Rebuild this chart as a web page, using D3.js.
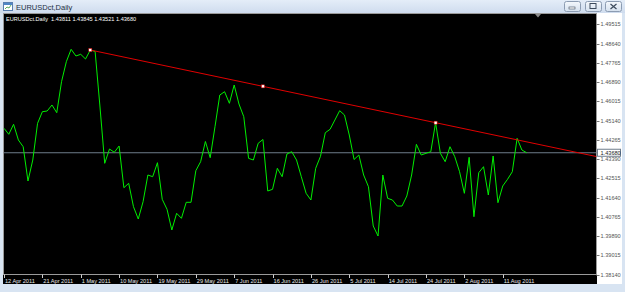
<!DOCTYPE html>
<html>
<head>
<meta charset="utf-8">
<script src="https://cdn.jsdelivr.net/npm/d3@7"></script>
<style>
  body { margin: 0; background: #d8e4f2; }
  svg { display: block; font-family: "Liberation Sans", Arial, sans-serif; }
</style>
</head>
<body>
<svg id="svg" width="625" height="292"></svg>
<script>
const WIDTH = 625
const HEIGHT = 292

// daily closes, EURUSD, 12 Apr 2011 .. 17 Aug 2011
const closes = [
  1.44790, 1.44518, 1.44972, 1.44259, 1.43954, 1.42396, 1.43350, 1.45017, 1.45544, 1.45576,
  1.45849, 1.45499, 1.46907, 1.47816, 1.48379, 1.48075, 1.48152, 1.47939, 1.48347, 1.48279,
  1.45803, 1.43200, 1.43850, 1.43700, 1.43986, 1.42092, 1.42292, 1.41229, 1.40670, 1.41456,
  1.42669, 1.42592, 1.43228, 1.41565, 1.41111, 1.40170, 1.40929, 1.40702, 1.41429, 1.41429,
  1.42864, 1.43273, 1.44191, 1.43455, 1.44863, 1.46303, 1.46453, 1.45926, 1.46757, 1.45894,
  1.45317, 1.43427, 1.43350, 1.44109, 1.44282, 1.41942, 1.42019, 1.42973, 1.42592, 1.43623,
  1.43727, 1.43350, 1.42592, 1.41837, 1.41533, 1.42973, 1.43518, 1.44590, 1.44745, 1.45167,
  1.45590, 1.45395, 1.44486, 1.43373, 1.43577, 1.42669, 1.42137, 1.40352, 1.39898, 1.42669,
  1.41610, 1.41533, 1.41260, 1.41260, 1.41715, 1.42669, 1.44063, 1.43577, 1.43655, 1.43727,
  1.45045, 1.43655, 1.43273, 1.43954, 1.43500, 1.42819, 1.41837, 1.43473, 1.40774, 1.42773,
  1.43046, 1.41760, 1.43532, 1.41410, 1.42169, 1.42473, 1.42819, 1.44336, 1.43804, 1.43680
]
const lastBar = ['1.43811', '1.43845', '1.43521', '1.43680']
const bid = 1.43680

const priceTicks = [
  1.49515, 1.48640, 1.47765, 1.46890, 1.46015, 1.45140, 1.44265,
  1.43390, 1.42515, 1.41640, 1.40765, 1.39890, 1.39015, 1.38140
]
const dateTicks = [
  '12 Apr 2011', '21 Apr 2011', '1 May 2011', '10 May 2011', '19 May 2011',
  '29 May 2011', '7 Jun 2011', '16 Jun 2011', '26 Jun 2011', '5 Jul 2011',
  '14 Jul 2011', '24 Jul 2011', '2 Aug 2011', '11 Aug 2011'
]

// trend line anchors (bar index, price)
const trendFrom = { bar: 18, price: 1.48347 }
const trendTo = { bar: 90, price: 1.45045 }

// trading days, MT4 style (Sunday bars, no Saturdays)
const dates = []
let day = new Date(2011, 3, 12)
while (dates.length < closes.length) {
  if (day.getDay() !== 6) dates.push(new Date(day))
  day = d3.timeDay.offset(day, 1)
}
const fmt = d3.timeFormat('%-d %b %Y')

const PLOT = { left: 3.5, right: 596.5, top: 13.5, bottom: 274.5 }

const x = d3.scaleLinear()
  .domain([0, closes.length - 1])
  .range([4, 526.7])
const y = d3.scaleLinear()
  .domain([priceTicks[priceTicks.length - 1], priceTicks[0]])
  .range([274.7, 24.3])

const SVG = d3.select('#svg')

// window frame
const defs = SVG.append('defs')
const grad = defs.append('linearGradient').attr('id', 'title').attr('x1', 0).attr('y1', 0).attr('x2', 0).attr('y2', 1)
grad.append('stop').attr('offset', '0%').attr('stop-color', '#e4edf8')
grad.append('stop').attr('offset', '100%').attr('stop-color', '#cfdcee')
const btnGrad = defs.append('linearGradient').attr('id', 'btn').attr('x1', 0).attr('y1', 0).attr('x2', 0).attr('y2', 1)
btnGrad.append('stop').attr('offset', '0%').attr('stop-color', '#f4f8fc')
btnGrad.append('stop').attr('offset', '100%').attr('stop-color', '#d4e0ee')

SVG.append('rect').attr('width', WIDTH).attr('height', HEIGHT).attr('fill', '#d8e4f2')
SVG.append('rect').attr('width', WIDTH).attr('height', 13).attr('fill', 'url(#title)')

// icon
SVG.append('rect').attr('x', 3.5).attr('y', 2.5).attr('width', 9).attr('height', 8)
  .attr('fill', '#ffffff').attr('stroke', '#5a7fb0')
SVG.append('rect').attr('x', 4).attr('y', 3).attr('width', 8).attr('height', 2).attr('fill', '#4f86c6')
SVG.append('path').attr('d', 'M5,9 L7,7 L9,8 L11,5').attr('fill', 'none').attr('stroke', '#3a9a3a').attr('stroke-width', 0.8)

SVG.append('text')
  .attr('x', 16).attr('y', 9.5)
  .attr('font-size', 7.5)
  .attr('fill', '#1e2f44')
  .text('EURUSDct,Daily')

// window buttons
const buttons = [564, 585, 605]
SVG.selectAll('.btn')
  .data(buttons)
  .enter()
  .append('rect')
  .attr('class', 'btn')
  .attr('x', d => d + 0.5).attr('y', 1.5)
  .attr('width', 16).attr('height', 10).attr('rx', 2)
  .attr('fill', 'url(#btn)').attr('stroke', '#8c9cb2')
SVG.append('rect').attr('x', 569).attr('y', 7).attr('width', 6).attr('height', 2).attr('fill', '#ffffff').attr('stroke', '#3c4a5c').attr('stroke-width', 0.6)
SVG.append('rect').attr('x', 590).attr('y', 3.5).attr('width', 6).attr('height', 5).attr('fill', 'none').attr('stroke', '#3c4a5c').attr('stroke-width', 1)
SVG.append('path').attr('d', 'M610.5,4 L616.5,9 M616.5,4 L610.5,9').attr('stroke', '#3c4a5c').attr('stroke-width', 1.2)

// chart client area
SVG.append('rect').attr('x', 3).attr('y', 13).attr('width', 619).attr('height', 271).attr('fill', '#000000')
SVG.append('rect').attr('x', 597).attr('y', 13).attr('width', 25).attr('height', 271).attr('fill', '#ffffff')
SVG.append('rect')
  .attr('x', PLOT.left).attr('y', PLOT.top)
  .attr('width', PLOT.right - PLOT.left).attr('height', PLOT.bottom - PLOT.top)
  .attr('fill', '#000000').attr('stroke', '#9a9a9a')

// chart shift marker
SVG.append('path').attr('d', 'M535,14 L541,14 L538,17.5 Z').attr('fill', '#8a8a8a')

// price scale
const PRICE_TICKS = SVG.append('g')
PRICE_TICKS.selectAll('line')
  .data(priceTicks)
  .enter()
  .append('line')
  .attr('x1', PLOT.right).attr('x2', PLOT.right + 3)
  .attr('y1', d => Math.round(y(d)) + 0.5).attr('y2', d => Math.round(y(d)) + 0.5)
  .attr('stroke', '#777777')
PRICE_TICKS.selectAll('text')
  .data(priceTicks)
  .enter()
  .append('text')
  .attr('x', 600.5)
  .attr('y', d => y(d))
  .attr('dy', '0.35em')
  .attr('font-size', 5.6)
  .attr('fill', '#555555')
  .text(d => d.toFixed(5))

// date scale
const DATE_TICKS = SVG.append('g')
const tickBars = dateTicks.map(label => dates.findIndex(d => fmt(d) === label))
DATE_TICKS.selectAll('line')
  .data(tickBars)
  .enter()
  .append('line')
  .attr('x1', d => Math.round(x(d)) + 0.5).attr('x2', d => Math.round(x(d)) + 0.5)
  .attr('y1', PLOT.bottom).attr('y2', PLOT.bottom + 3.5)
  .attr('stroke', '#cccccc')
DATE_TICKS.selectAll('text')
  .data(tickBars)
  .enter()
  .append('text')
  .attr('x', d => x(d) + 1)
  .attr('y', 283)
  .attr('font-size', 5.6)
  .attr('fill', '#e8e8e8')
  .text(d => fmt(dates[d]))

const clip = defs.append('clipPath').attr('id', 'plot')
clip.append('rect').attr('x', PLOT.left).attr('y', PLOT.top).attr('width', PLOT.right - PLOT.left).attr('height', PLOT.bottom - PLOT.top)

const PLOT_GROUP = SVG.append('g').attr('clip-path', 'url(#plot)')

// bid line
PLOT_GROUP.append('line')
  .attr('x1', PLOT.left).attr('x2', PLOT.right)
  .attr('y1', y(bid)).attr('y2', y(bid))
  .attr('stroke', '#6e7c8a')
  .attr('stroke-width', 1.2)

// close line
const LINE = d3.line()
  .x((d, i) => x(i))
  .y(d => y(d))
PLOT_GROUP.append('path')
  .datum(closes)
  .attr('d', LINE)
  .attr('fill', 'none')
  .attr('stroke', '#00ee00')
  .attr('stroke-width', 1)

// trend line (ray to the right edge)
const slope = (trendTo.price - trendFrom.price) / (trendTo.bar - trendFrom.bar)
const endBar = x.invert(PLOT.right)
const trendPts = [
  [trendFrom.bar, trendFrom.price],
  [endBar, trendFrom.price + slope * (endBar - trendFrom.bar)]
]
PLOT_GROUP.append('path')
  .datum(trendPts)
  .attr('d', d3.line().x(d => x(d[0])).y(d => y(d[1])))
  .attr('stroke', '#e00000')
  .attr('stroke-width', 1)
  .attr('fill', 'none')

const midBar = (trendFrom.bar + trendTo.bar) / 2
const handles = [
  [trendFrom.bar, trendFrom.price],
  [midBar, trendFrom.price + slope * (midBar - trendFrom.bar)],
  [trendTo.bar, trendTo.price]
]
PLOT_GROUP.selectAll('.handle')
  .data(handles)
  .enter()
  .append('rect')
  .attr('class', 'handle')
  .attr('x', d => x(d[0]) - 1.5).attr('y', d => y(d[1]) - 1.5)
  .attr('width', 3).attr('height', 3)
  .attr('fill', '#ffffff')
  .attr('stroke', '#e00000')
  .attr('stroke-width', 0.5)

// bid label box
SVG.append('rect')
  .attr('x', 597.5).attr('y', y(bid) - 3.5)
  .attr('width', 23).attr('height', 7)
  .attr('fill', '#ffffff').attr('stroke', '#6e7c8a')
SVG.append('text')
  .attr('x', 600.5).attr('y', y(bid))
  .attr('dy', '0.35em')
  .attr('font-size', 5.6)
  .attr('fill', '#222222')
  .text(bid.toFixed(5))

// legend
SVG.append('text')
  .attr('x', 6).attr('y', 21)
  .attr('font-size', 5.6)
  .attr('fill', '#ffffff')
  .attr('xml:space', 'preserve')
  .text('EURUSDct.Daily  ' + lastBar.join(' '))
</script>
</body>
</html>
